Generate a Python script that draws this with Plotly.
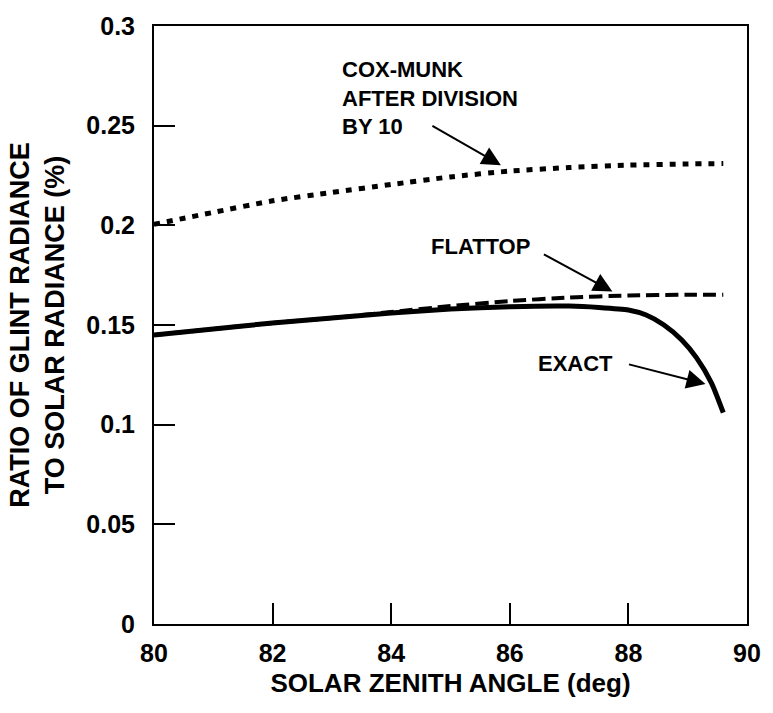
import plotly.graph_objects as go

# Glint radiance ratio vs. solar zenith angle
angle_exact = [80, 81, 82, 83, 84, 85, 86, 87, 87.5, 88, 88.3, 88.6, 88.9, 89.15, 89.4, 89.6]
ratio_exact = [0.145, 0.148, 0.151, 0.1535, 0.156, 0.158, 0.1592, 0.1595, 0.1588, 0.1575,
               0.155, 0.150, 0.1425, 0.1335, 0.121, 0.106]

angle_flattop = [80, 81, 82, 83, 84, 85, 86, 87, 88, 89, 89.6]
ratio_flattop = [0.145, 0.148, 0.151, 0.1535, 0.1565, 0.1595, 0.162, 0.1638, 0.1648, 0.1652, 0.1652]

angle_coxmunk = [80, 81, 82, 83, 84, 85, 86, 87, 88, 89, 89.6]
ratio_coxmunk = [0.2005, 0.2065, 0.2123, 0.2165, 0.2205, 0.2243, 0.2272, 0.229, 0.2302, 0.2308, 0.231]

FONT = "Liberation Sans, Arial, Helvetica, sans-serif"

fig = go.Figure()
fig.add_trace(go.Scatter(x=angle_coxmunk, y=ratio_coxmunk, mode="lines",
                         line=dict(color="black", width=5, dash="6px,7px", shape="spline", smoothing=0.6),
                         name="Cox-Munk / 10"))
fig.add_trace(go.Scatter(x=angle_flattop, y=ratio_flattop, mode="lines",
                         line=dict(color="black", width=4, dash="13px,6px", shape="spline", smoothing=0.6),
                         name="Flattop"))
fig.add_trace(go.Scatter(x=angle_exact, y=ratio_exact, mode="lines",
                         line=dict(color="black", width=5, shape="spline", smoothing=0.6),
                         name="Exact"))

label_font = dict(family=FONT, size=22, color="black", weight="bold")
arrow_style = dict(showarrow=True, arrowhead=2, arrowsize=1.9, arrowwidth=2, arrowcolor="black")

annotations = [
    dict(x=83.13, y=0.2641, xref="x", yref="y", text="COX-MUNK<br>AFTER DIVISION<br>BY 10",
         showarrow=False, xanchor="left", yanchor="middle", align="left", font=label_font),
    dict(x=85.85, y=0.2302, xref="x", yref="y", text="", ax=-70, ay=-40, **arrow_style),
    dict(x=84.63, y=0.1895, xref="x", yref="y", text="FLATTOP", showarrow=False,
         xanchor="left", yanchor="middle", font=label_font),
    dict(x=87.73, y=0.1668, xref="x", yref="y", text="", ax=-70, ay=-38, **arrow_style),
    dict(x=86.45, y=0.1309, xref="x", yref="y", text="EXACT", showarrow=False,
         xanchor="left", yanchor="middle", font=label_font),
    dict(x=89.30, y=0.1204, xref="x", yref="y", text="", ax=-78, ay=-20, **arrow_style),
]

axis_common = dict(showline=True, mirror=True, linecolor="black", linewidth=2,
                   ticks="inside", ticklen=21, tickwidth=1.5, tickcolor="black",
                   showgrid=False, zeroline=False,
                   tickfont=dict(family=FONT, size=25, color="black", weight="bold"))

fig.update_layout(
    width=773, height=713,
    margin=dict(l=154, r=16, t=23, b=89),
    paper_bgcolor="white", plot_bgcolor="white",
    showlegend=False,
    xaxis=dict(range=[80, 90], dtick=2, tick0=80,
               title=dict(text="SOLAR ZENITH ANGLE (deg)", standoff=8,
                          font=dict(family=FONT, size=26, color="black", weight="bold")),
               ticklabelstandoff=6, **axis_common),
    yaxis=dict(range=[0, 0.3], dtick=0.05, tick0=0,
               title=dict(text="RATIO OF GLINT RADIANCE<br>TO SOLAR RADIANCE (%)", standoff=14,
                          font=dict(family=FONT, size=27, color="black", weight="bold")),
               ticklabelstandoff=12, **axis_common),
    annotations=annotations,
)

fig.write_html("out.html")
